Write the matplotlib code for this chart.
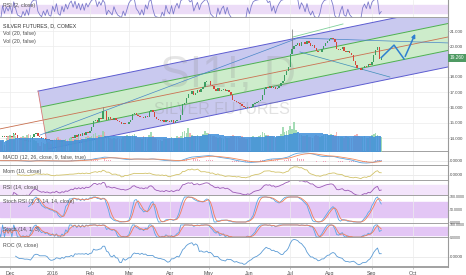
import numpy as np
import pandas as pd
import matplotlib
matplotlib.use("Agg")
import matplotlib.pyplot as plt
from matplotlib.transforms import blended_transform_factory

plt.rcParams["font.family"] = ["Liberation Sans", "DejaVu Sans"]

# --- Silver futures daily bars, Nov 23 2015 -> early Sep 2016 (bar index 0..206) ---

closes = [
    14.10, 14.05, 14.15, 14.05, 14.12, 14.08,
    14.12, 14.05, 14.30, 14.20, 14.00, 13.95, 13.85, 13.90, 13.80, 13.85, 13.75, 13.90,
    14.10, 14.25, 14.30, 14.15, 14.05, 13.95, 14.00, 13.90, 13.95, 13.85, 13.82,
    13.90, 13.85, 13.95, 13.80, 13.75, 13.85, 13.78, 13.90, 13.85, 13.95, 14.05, 14.00,
    14.20, 14.10, 14.25, 14.15, 14.30, 14.20, 14.40, 14.35,
    14.45, 14.70, 15.10, 15.15, 15.05, 15.30, 15.25, 15.80, 15.75, 15.20, 15.35, 15.25,
    15.15, 15.30, 15.20, 15.10, 15.05, 14.95, 15.00, 14.90, 14.95,
    15.05, 15.20, 15.55, 15.65, 15.50, 15.45, 15.35, 15.40, 15.30, 15.45, 15.40, 15.75,
    15.85, 15.70, 15.40, 15.25, 15.20, 15.10, 15.15, 15.05, 15.20, 15.10,
    15.05, 15.15, 15.00, 15.10, 15.20, 15.15, 15.50, 16.20, 16.30, 16.60, 16.90, 16.85,
    17.05, 16.80, 16.95, 17.15, 17.00, 17.20, 17.35, 17.65, 17.75,
    17.70, 17.50, 17.40, 17.20, 17.10, 17.25, 17.05, 17.15, 17.20, 17.05, 17.15, 17.00,
    16.80, 16.50, 16.45, 16.35, 16.30, 16.25, 16.10, 16.00, 15.95, 16.05,
    15.95, 16.05, 16.20, 16.30, 16.35, 16.40, 16.50, 16.80, 17.20, 17.35, 17.30, 17.40,
    17.25, 17.35, 17.20, 17.30, 17.40, 17.60, 17.75, 18.10, 18.40, 18.65,
    19.50, 19.80, 20.05, 20.10, 20.20, 20.05, 20.30, 20.25, 20.15, 20.35, 20.20, 20.05,
    20.10, 19.90, 19.70, 19.60, 19.65, 19.80, 20.00, 20.20, 20.35,
    20.45, 20.55, 20.50, 20.25, 19.80, 19.75, 19.85, 19.95, 19.70, 19.60, 19.70, 19.55,
    19.40, 19.05, 18.80, 18.60, 18.55, 18.45, 18.60, 18.70, 18.65, 18.85, 18.75,
    19.00, 19.40, 19.75, 19.95, 19.15, 19.26,
]

opens = [
    14.15, 14.10, 14.05, 14.15, 14.05, 14.12,
    14.08, 14.12, 14.05, 14.30, 14.20, 14.00, 13.95, 13.85, 13.90, 13.80, 13.85, 13.75,
    13.90, 14.10, 14.25, 14.30, 14.15, 14.05, 13.95, 14.00, 13.90, 13.95, 13.85,
    13.82, 13.90, 13.85, 13.95, 13.80, 13.75, 13.85, 13.78, 13.90, 13.85, 13.95, 14.05,
    14.00, 14.20, 14.10, 14.25, 14.15, 14.30, 14.20, 14.40,
    14.35, 14.45, 14.70, 15.10, 15.15, 15.05, 15.30, 15.25, 15.80, 15.75, 15.20, 15.35,
    15.25, 15.15, 15.30, 15.20, 15.10, 15.05, 14.95, 15.00, 14.90,
    14.95, 15.05, 15.20, 15.55, 15.65, 15.50, 15.45, 15.35, 15.40, 15.30, 15.45, 15.40,
    15.75, 15.85, 15.70, 15.40, 15.25, 15.20, 15.10, 15.15, 15.05, 15.20,
    15.10, 15.05, 15.15, 15.00, 15.10, 15.20, 15.15, 15.50, 16.20, 16.30, 16.60, 16.90,
    16.85, 17.05, 16.80, 16.95, 17.15, 17.00, 17.20, 17.35, 17.65,
    17.75, 17.70, 17.50, 17.40, 17.20, 17.10, 17.25, 17.05, 17.15, 17.20, 17.05, 17.15,
    17.00, 16.80, 16.50, 16.45, 16.35, 16.30, 16.25, 16.10, 16.00, 15.95,
    16.05, 15.95, 16.05, 16.20, 16.30, 16.35, 16.40, 16.50, 16.80, 17.20, 17.35, 17.30,
    17.40, 17.25, 17.35, 17.20, 17.30, 17.40, 17.60, 17.75, 18.10, 18.40,
    18.65, 19.50, 19.80, 20.05, 20.10, 20.20, 20.05, 20.30, 20.25, 20.15, 20.35, 20.20,
    20.05, 20.10, 19.90, 19.70, 19.60, 19.65, 19.80, 20.00, 20.20,
    20.35, 20.45, 20.55, 20.50, 20.25, 19.80, 19.75, 19.85, 19.95, 19.70, 19.60, 19.70,
    19.55, 19.40, 19.05, 18.80, 18.60, 18.55, 18.45, 18.60, 18.70, 18.65, 18.85,
    18.75, 19.00, 19.40, 19.75, 19.95, 19.10,
]

# volume in thousands of contracts
volume = [
    55, 48, 52, 30, 62, 70,
    75, 68, 80, 72, 58, 60, 65, 70, 66, 74, 82, 78, 60, 55, 48, 40, 25, 45, 42, 38, 40, 44, 35,
    50, 58, 62, 66, 60, 55, 52, 58, 54, 62, 66, 60, 58, 64, 70, 62, 60, 58, 66, 70,
    68, 72, 80, 85, 70, 78, 74, 96, 90, 72, 66, 62, 60, 64, 58, 62, 60, 58, 66, 70, 74,
    72, 70, 78, 82, 66, 62, 64, 60, 70, 66, 58, 74, 88, 70, 64, 58, 55, 52, 48, 56, 60, 58,
    62, 66, 60, 64, 70, 68, 72, 90, 95, 86, 108, 84, 78, 72, 70, 74, 68, 72, 80, 92, 86,
    84, 78, 72, 70, 66, 64, 68, 62, 60, 66, 64, 62, 70, 78, 72, 68, 66, 62, 70, 64, 60, 58,
    62, 66, 70, 64, 68, 72, 78, 88, 84, 76, 74, 72, 70, 66, 64, 68, 72, 80, 110, 90, 96, 100,
    118, 104, 135, 98, 86, 80, 76, 72, 70, 74, 68, 66, 62, 70, 76, 72, 68, 70, 74, 80, 78,
    76, 82, 78, 74, 88, 72, 68, 66, 64, 70, 68, 62, 64, 70, 76, 80, 72, 68, 66, 70, 64, 62, 68,
    74, 80, 84, 76, 70, 66,
]

# long upper wicks that stand out
wick_idx = [56, 158]
wick_high = [16.05, 21.15]

month_idx = [6, 29, 49, 70, 92, 113, 135, 157, 178, 201, 223]
month_lbl = ["Dec", "2016", "Feb", "Mar", "Apr", "May", "Jun", "Jul", "Aug", "Sep", "Oct"]

price_ticks = [14, 15, 16, 17, 18, 20, 21]   # 19 sits under the last-price box
last_label = "19.260"

if not (len(closes) == len(opens) == len(volume)):
    raise SystemExit(f"length mismatch {len(opens)} {len(closes)} {len(volume)}")

# --- indicators ---
c = pd.Series(closes, dtype=float)
idx = np.arange(len(c))


def rsi(s, n):
    d = s.diff()
    up = d.clip(lower=0).ewm(alpha=1 / n, adjust=False).mean()
    dn = (-d.clip(upper=0)).ewm(alpha=1 / n, adjust=False).mean()
    return 100 - 100 / (1 + up / dn.replace(0, 1e-9))


rsi2 = rsi(c, 2)
rsi14 = rsi(c, 14)
macd = c.ewm(span=12, adjust=False).mean() - c.ewm(span=26, adjust=False).mean()
signal = macd.ewm(span=9, adjust=False).mean()
hist = macd - signal
mom = c - c.shift(10)
roc = (c / c.shift(9) - 1) * 100
lo14, hi14 = c.rolling(14, min_periods=1).min(), c.rolling(14, min_periods=1).max()
k_fast = (100 * (c - lo14) / (hi14 - lo14).replace(0, np.nan)).fillna(50)
stoch_k = k_fast
stoch_d = k_fast.rolling(3).mean()
rlo, rhi = rsi14.rolling(14).min(), rsi14.rolling(14).max()
srsi = 100 * (rsi14 - rlo) / (rhi - rlo).replace(0, np.nan)
srsi_k = srsi.rolling(3).mean()
srsi_d = srsi_k.rolling(3).mean()
vol_ma = pd.Series(volume, dtype=float).rolling(20, min_periods=1).mean()

# --- layout ---
W, H, PW = 466, 275, 448
XMIN, XMAX = 0.6, 0.6 + PW / 1.856
fig = plt.figure(figsize=(W / 100, H / 100), dpi=100)
SEP = "#9a9a9a"
TXT = "#4d4d4d"


def style_y(ax, size=3.2):
    ax.yaxis.tick_right()
    ax.tick_params(axis="y", length=0.9, width=0.4, colors=SEP, labelcolor=TXT, labelsize=size, pad=0.5)


def panel(ytop, ybot, size=3.2):
    ax = fig.add_axes([0, 1 - ybot / H, PW / W, (ybot - ytop) / H])
    ax.set_xlim(XMIN, XMAX)
    ax.set_xticks(month_idx)
    ax.grid(axis="x", color="#ececec", lw=0.5)
    ax.set_axisbelow(True)
    for s in ["left", "top"]:
        ax.spines[s].set_visible(False)
    ax.spines["bottom"].set_color(SEP)
    ax.spines["bottom"].set_linewidth(1.3)
    ax.spines["right"].set_color(SEP)
    ax.spines["right"].set_linewidth(0.8)
    style_y(ax, size)
    ax.tick_params(axis="x", length=0, labelbottom=False)
    return ax


def label(ax, text, ypix_from_top=5):
    ax.text(0.006, 1 - ypix_from_top / (ax.get_position().height * H), text,
            transform=ax.transAxes, fontsize=3.8, color=TXT, va="center", ha="left")


# RSI(2) strip on top
ax0 = panel(0, 18)
ax0.set_ylim(5, 95)
ax0.axhspan(30, 70, color="#ecdcf7", zorder=0)
ax0.plot(idx, rsi2, color="#7d7ccc", lw=0.6)
ax0.set_yticks([])
label(ax0, "RSI (2, close)", 5)

# main price panel
ax = panel(18, 152)
ax.set_ylim(13.09, 21.85)
ax.grid(axis="y", color="#ececec", lw=0.5)

# pitchfork style channel
c_a, c_b = (0.6, 14.60), (242.0, 20.61)
slope = (c_b[1] - c_a[1]) / (c_b[0] - c_a[0])
center = lambda i: c_a[1] + slope * (i - c_a[0])
OUT, INN = 1.96, 0.88
iA, iB = 21.1, 26.5


def left_i(d):
    t = (OUT - d) / (2 * OUT)
    return iA + t * (iB - iA)


def band(d1, d2, color):
    l1, l2 = left_i(d1), left_i(d2)
    xr = XMAX + 2
    poly = [(l1, center(l1) + d1), (xr, center(xr) + d1), (xr, center(xr) + d2), (l2, center(l2) + d2)]
    ax.add_patch(plt.Polygon(poly, closed=True, facecolor=color, edgecolor="none", zorder=0.6))


band(INN, OUT, "#c9c9ef")
band(-OUT, -INN, "#c9c9ef")
band(0, INN, "#cdeccb")
band(-INN, 0, "#cdeccb")
xr = XMAX + 2
for d, col in [(OUT, "#5c5cd0"), (-OUT, "#5c5cd0"), (INN, "#4caf50"), (-INN, "#4caf50")]:
    l = left_i(d)
    ax.plot([l, xr], [center(l) + d, center(xr) + d], color=col, lw=0.7, zorder=0.8)
ax.plot([XMIN, xr], [center(XMIN), center(xr)], color="#c8704f", lw=0.6, zorder=0.8)
ax.plot([iA, iB], [center(iA) + OUT, center(iB) - OUT], color="#d77a7a", lw=0.6, zorder=0.8)

# watermark
ax.text(123.4, 18.15, "SI1!, D", fontsize=32, color="#8c8c8c", alpha=0.22,
        ha="center", va="center", zorder=0.9)
ax.text(120.2, 15.85, "SILVER FUTURES", fontsize=11.5, color="#8c8c8c", alpha=0.25,
        ha="center", va="center", zorder=0.9)

# drawn trendlines
ax.plot([22.2, 161.2], [14.20, 20.54], color="#4a86c8", lw=0.5, zorder=1.5)
ax.plot([161.2, 242.0], [20.54, 20.22], color="#4a86c8", lw=0.5, zorder=1.5)
ax.plot([158.5, 185.4], [20.61, 21.46], color="#7fcf9a", lw=0.6, zorder=1.5)
ax.plot([162.2, 210.7], [19.63, 17.99], color="#3f8fb8", lw=0.5, zorder=1.5)

# volume on its own scale at the bottom
axv = ax.twinx()
axv.set_ylim(0, 600)
axv.set_xlim(XMIN, XMAX)
axv.axis("off")
o = np.array(opens)
cl = np.array(closes)
up = cl >= o
vcol = np.where(up, "#8fd4a4", "#f2a3a3")
axv.bar(idx, volume, width=0.85, color=vcol, alpha=0.8, zorder=1)
axv.fill_between(idx, 0, vol_ma, color="#3f8fdb", alpha=0.85, step="mid", lw=0, zorder=2)

# twinx moved the price ticks to the left, put them back
style_y(ax)
ax.set_yticks(price_ticks)
ax.set_yticklabels([f"{v:.3f}" for v in price_ticks])

# candles
body_lo = np.minimum(o, cl)
body_h = np.maximum(np.abs(cl - o), 0.035)
ccol = np.where(up, "#3d9e62", "#d5483c")
ax.vlines(wick_idx, [closes[i] for i in wick_idx], wick_high, color="#777777", lw=0.5, zorder=2)
ax.bar(idx, body_h, bottom=body_lo, width=0.75, color=ccol, zorder=3)

# projection arrow
ax.plot([206, 212.9, 218.3], [19.26, 20.08, 19.17], color="#2f7fd0", lw=1.1, zorder=4)
ax.annotate("", xy=(224.9, 20.98), xytext=(218.3, 19.17),
            arrowprops=dict(arrowstyle="-|>", color="#2f7fd0", lw=1.1, mutation_scale=5), zorder=4)

# last price box
tr = blended_transform_factory(ax.transAxes, ax.transData)
ax.text(1.004, closes[-1], last_label, transform=tr, fontsize=3.4, color="white", va="center", ha="left",
        bbox=dict(boxstyle="square,pad=0.3", fc="#4f9a63", ec="none"), zorder=5, clip_on=False)

fig.text(0.006, 1 - 26 / H, "SILVER FUTURES, D, COMEX", fontsize=3.8, color="#333333", va="center")
fig.text(0.006, 1 - 34 / H, "Vol (20, false)", fontsize=3.8, color=TXT, va="center")
fig.text(0.006, 1 - 42 / H, "Vol (20, false)", fontsize=3.8, color=TXT, va="center")

# MACD
axm = panel(152, 166)
m = float(np.nanmax(macd)) * 1.1
axm.set_ylim(-0.625 * m, m)
axm.axhline(0, color="#e4e4e4", lw=0.5, zorder=0)
axm.bar(idx, hist, width=0.3, color="#f07fa0", alpha=0.7)
axm.plot(idx, macd, color="#5ea5e0", lw=0.6)
axm.plot(idx, signal, color="#f28a5c", lw=0.6)
axm.set_yticks([0])
axm.set_yticklabels(["0.0000"])
label(axm, "MACD (12, 26, close, 9, false, true)", 5)

# Momentum
axo = panel(166, 181)
mm = float(np.nanmax(mom)) * 1.1
axo.set_ylim(-mm * 0.43 / 0.57, mm)
axo.axhline(0, color="#e4e4e4", lw=0.5, zorder=0)
axo.plot(idx, mom, color="#d2c36a", lw=0.6)
axo.set_yticks([0])
axo.set_yticklabels(["0.0000"])
label(axo, "Mom (10, close)", 6)

# RSI 14
axr = panel(181, 196)
axr.set_ylim(27, 85)
axr.axhspan(30, 70, color="#f3e4fb", zorder=0)
axr.plot(idx, rsi14, color="#9b59b6", lw=0.6)
axr.set_yticks([])
label(axr, "RSI (14, close)", 7)

# Stoch RSI
axs = panel(196, 224, size=2.6)
axs.set_ylim(-8, 104)
axs.axhspan(20, 80, color="#e3c6f5", zorder=0)
axs.plot(idx, srsi_k, color="#5aa7e6", lw=0.6)
axs.plot(idx, srsi_d, color="#f07f5a", lw=0.6)
axs.set_yticks([0, 50, 100])
axs.set_yticklabels(["0.0000", "50.0000", "100.0000"])
label(axs, "Stoch RSI (3, 3, 14, 14, close)", 6)

# Stoch
axk = panel(224, 238, size=2.6)
axk.set_ylim(-8, 108)
axk.axhspan(20, 80, color="#e3c6f5", zorder=0)
axk.plot(idx, stoch_k, color="#5aa7e6", lw=0.6)
axk.plot(idx, stoch_d, color="#f07f5a", lw=0.6)
axk.set_yticks([0, 100])
axk.set_yticklabels(["0.0000", "100.0000"])
label(axk, "Stoch (14, 1, 3)", 6)

# ROC
axc = panel(238, 267)
rm = float(np.nanmax(roc)) * 1.08
axc.set_ylim(-rm * 0.345 / 0.655, rm)
axc.axhline(0, color="#e4e4e4", lw=0.5, zorder=0)
axc.plot(idx, roc, color="#5b9bd5", lw=0.6)
axc.set_yticks([0])
axc.set_yticklabels(["0.0000"])
label(axc, "ROC (9, close)", 8)
axc.tick_params(axis="x", length=1.5, width=0.4, colors=SEP, labelcolor=TXT, labelsize=3.8, pad=1.5, labelbottom=True)
axc.set_xticklabels(month_lbl)

fig.savefig("out.png", dpi=100)
plt.close(fig)
